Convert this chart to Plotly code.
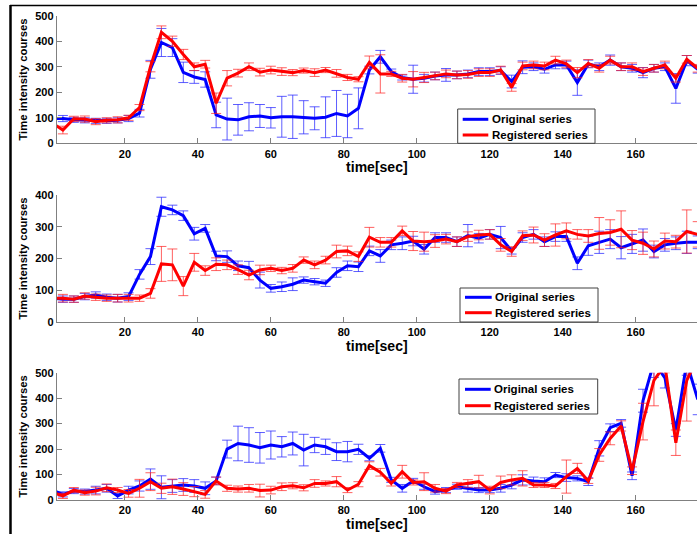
import plotly.graph_objects as go

# time axis (sec)
time_sec = [3 * k for k in range(60)]

# Panel 1
p1_original = [97,97,92,90,88,88,90,97,118,290, 395,375,278,260,250,111,95,92,104,107,
               100,104,104,102,98,102,117,107,137,287, 339,281,258,251,255,264,268,268,272,281,
               281,285,242,298,300,290,307,307,238,311, 300,326,300,294,277,294,300,215,324,290]
p1_original_err = [12,12,10,10,10,10,10,12,15,35, 55,35,40,25,30,50,82,60,55,45,
                   40,80,85,65,45,80,90,85,80,15, 25,10,10,55,15,15,25,15,15,15,
                   15,15,25,25,15,15,15,15,50,15, 15,20,15,15,20,15,15,58,20,15]
p1_registered = [80,52,96,95,85,90,92,100,140,300, 435,400,348,300,310,157,255,275,300,279,
                 287,281,277,285,277,287,274,258,251,317, 272,272,255,251,258,264,272,268,270,277,
                 277,287,219,303,307,303,326,311,277,313, 294,326,300,300,281,294,307,255,329,294]
p1_registered_err = [15,15,10,12,12,10,12,10,12,20, 25,20,20,15,15,40,30,15,15,15,
                     15,15,12,10,15,10,15,12,10,25, 75,10,15,30,20,15,15,15,15,15,
                     15,15,15,15,15,15,15,15,20,15, 15,15,15,15,15,15,15,15,15,15]

# Panel 2
p2_original = [75,72,72,80,85,78,75,80,150,206, 363,353,335,278,295,208,206,177,171,132,
               106,111,119,132,127,122,156,177,174,224, 208,243,248,255,229,266,266,253,272,264,
               276,266,224,266,276,253,269,269,185,240, 251,261,234,246,258,222,243,248,251,251]
p2_original_err = [12,10,10,10,10,10,12,12,15,25, 30,15,15,20,12,15,18,15,20,25,
                   12,15,20,10,10,10,15,15,15,15, 20,15,20,15,15,15,15,15,35,15,
                   15,35,10,15,15,15,15,15,20,30, 35,30,35,30,35,20,20,20,35,20]
p2_registered = [75,75,72,82,78,75,75,75,75,90, 183,180,113,188,162,182,180,165,148,164,
                 169,162,169,195,180,195,222,224,206,267, 251,251,287,255,253,255,261,253,269,274,
                 276,243,222,272,274,258,274,287,276,271, 279,282,292,258,248,230,255,253,285,276]
p2_registered_err = [12,12,10,10,10,10,12,12,10,15, 55,50,30,28,15,20,15,15,15,15,
                     10,10,12,10,12,12,20,15,15,31, 15,15,15,30,30,20,15,15,15,15,
                     15,20,15,15,25,20,35,25,15,20, 50,40,58,30,35,25,25,20,68,40]

# Panel 3
p3_original = [40,22,35,33,39,46,16,39,55,82, 50,55,59,55,46,75,200,222,216,205,
               216,209,222,196,216,209,190,190,199,164, 203,79,46,75,52,33,39,52,46,39,
               39,46,59,79,75,72,98,88,85,72, 203,284,301,95,390,541,480,275,540,395]
p3_original_err = [15,10,10,10,15,15,10,15,20,40, 45,25,25,25,25,15,35,68,68,60,
                   55,40,45,62,30,30,35,40,20,10, 15,10,15,10,10,10,10,10,15,10,
                   10,15,15,20,15,15,10,15,10,15, 30,15,15,15,45,60,40,25,50,60]
p3_registered = [30,16,39,29,35,48,39,26,46,72, 46,52,43,33,22,75,46,43,46,37,
                 39,52,56,48,65,65,72,39,62,135, 109,65,111,69,72,46,35,59,65,72,
                 39,69,79,85,59,59,55,92,124,75, 177,242,291,115,308,470,530,225,470,560]
p3_registered_err = [15,10,10,10,15,15,10,15,35,35, 20,30,25,20,15,15,12,12,15,25,
                     15,15,12,12,15,10,20,10,10,15, 15,10,25,10,35,15,10,10,15,25,
                     15,25,20,30,10,10,10,65,20,10, 25,25,20,15,72,100,30,50,160,40]

series_names = ["Original series", "Registered series"]
series_colors = ["#0000ff", "#ff0000"]
x_ticks = [20, 40, 60, 80, 100, 120, 140, 160]
y_ticks = [[0, 100, 200, 300, 400, 500], [0, 100, 200, 300, 400], [0, 100, 200, 300, 400, 500]]
y_ranges = [[0, 500], [0, 400], [0, 500]]

panels = [
    (p1_original, p1_original_err, p1_registered, p1_registered_err),
    (p2_original, p2_original_err, p2_registered, p2_registered_err),
    (p3_original, p3_original_err, p3_registered, p3_registered_err),
]

W, H = 697, 534
FONT = "Arial, Liberation Sans, sans-serif"

# pixel layout of each panel (top, bottom)
panel_px = [(15.7, 143.3), (195.0, 322.0), (372.7, 500.0)]
x_left_px = 56.7
# legend boxes: (left, top, right, bottom), row centres, line start/end, text start
legend_boxes = [
    dict(box=(457.7, 109.0, 595.0, 143.3), rows=(119.3, 135.0), line=(462.7, 488.3), text=490.0),
    dict(box=(460.0, 288.0, 598.0, 322.0), rows=(297.3, 312.7), line=(465.0, 491.7), text=492.6),
    dict(box=(459.0, 379.0, 597.7, 414.0), rows=(389.3, 405.7), line=(465.0, 490.7), text=491.6),
]

def px(xp):
    return xp / W

def py(yp):
    return (H - yp) / H

fig = go.Figure()
layout = dict(
    width=W, height=H,
    margin=dict(l=0, r=0, t=0, b=0),
    paper_bgcolor="white", plot_bgcolor="white",
    showlegend=False,
)

axis_gray = "#808080"
shapes = []
annotations = []
for i, (orig, orig_err, reg, reg_err) in enumerate(panels):
    n = i + 1
    xa = "x" if n == 1 else f"x{n}"
    ya = "y" if n == 1 else f"y{n}"
    fig.add_trace(go.Scatter(
        x=time_sec, y=orig, mode="lines", name=series_names[0],
        line=dict(color=series_colors[0], width=3),
        error_y=dict(type="data", array=orig_err, visible=True, color="rgba(40,40,255,0.75)",
                     thickness=1, width=5),
        xaxis=xa, yaxis=ya))
    fig.add_trace(go.Scatter(
        x=time_sec, y=reg, mode="lines", name=series_names[1],
        line=dict(color=series_colors[1], width=3),
        error_y=dict(type="data", array=reg_err, visible=True, color="rgba(255,30,30,0.7)",
                     thickness=1, width=5),
        xaxis=xa, yaxis=ya))

    top, bot = panel_px[i]
    xkey = "xaxis" if n == 1 else f"xaxis{n}"
    ykey = "yaxis" if n == 1 else f"yaxis{n}"
    layout[xkey] = dict(
        domain=[x_left_px / W, 1.0], anchor=ya, range=[1.3, 176.8],
        tickvals=x_ticks, ticks="inside", ticklen=5, tickcolor=axis_gray,
        showline=True, linecolor=axis_gray, linewidth=1, showgrid=False, zeroline=False,
        tickfont=dict(family=FONT, size=11, color="black", weight="bold"),
        title=dict(text="time[sec]", font=dict(family=FONT, size=14, color="black", weight="bold"),
                   standoff=0),
        automargin=False,
    )
    layout[ykey] = dict(
        domain=[py(bot), py(top)], anchor=xa, range=y_ranges[i],
        tickvals=y_ticks[i], ticks="inside", ticklen=5, tickcolor=axis_gray,
        showline=True, linecolor=axis_gray, linewidth=1, showgrid=False, zeroline=False,
        tickfont=dict(family=FONT, size=11, color="black", weight="bold"),
        title=dict(text="Time intensity courses",
                   font=dict(family=FONT, size=11.3, color="black", weight="bold"), standoff=5),
        automargin=False,
    )

    # legend box for this panel
    lb = legend_boxes[i]
    x0, y0, x1, y1 = lb["box"]
    shapes.append(dict(type="rect", xref="paper", yref="paper",
                       x0=px(x0), x1=px(x1), y0=py(y1), y1=py(y0),
                       fillcolor="white", line=dict(color="#404040", width=1), layer="above"))
    for r, name in enumerate(series_names):
        yr = lb["rows"][r]
        shapes.append(dict(type="line", xref="paper", yref="paper",
                           x0=px(lb["line"][0]), x1=px(lb["line"][1]), y0=py(yr), y1=py(yr),
                           line=dict(color=series_colors[r], width=3), layer="above"))
        annotations.append(dict(xref="paper", yref="paper", x=px(lb["text"]), y=py(yr),
                                xanchor="left", yanchor="middle", showarrow=False,
                                text=name, font=dict(family=FONT, size=11.5, color="black", weight="bold")))

# outer figure frame (left and top edges)
shapes += [
    dict(type="line", xref="paper", yref="paper", x0=px(10.5), x1=px(10.5), y0=0, y1=py(5),
         line=dict(color="black", width=2.5)),
    dict(type="line", xref="paper", yref="paper", x0=px(10), x1=1.0, y0=py(5.5), y1=py(5.5),
         line=dict(color="black", width=1.5)),
]
layout["shapes"] = shapes
layout["annotations"] = annotations

fig.update_layout(**layout)
fig.write_html("out.html", config={"displayModeBar": False},
               post_script="document.body.style.margin='0px';")
